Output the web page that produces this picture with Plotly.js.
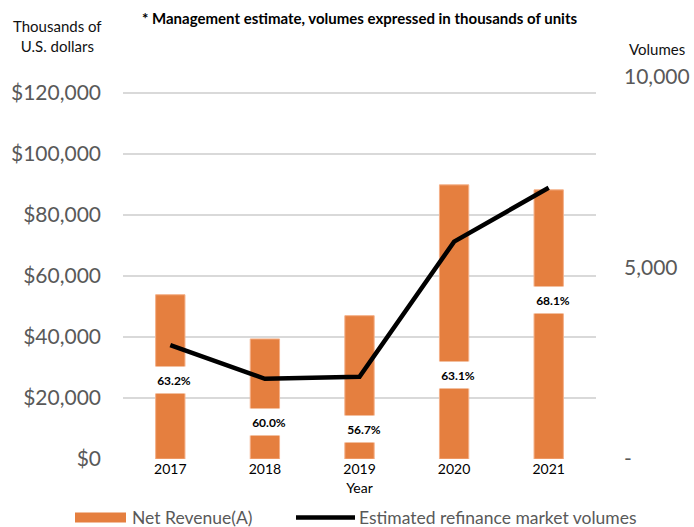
<!DOCTYPE html>
<html>
<head>
<meta charset="utf-8">
<script src="https://cdn.plot.ly/plotly-3.0.1.min.js"></script>
<style>html,body{margin:0;padding:0;background:#fff;}#chart{width:694px;height:527px;}</style>
</head>
<body>
<div id="chart"></div>
<script>
// ---- data ----
const years = ['2017', '2018', '2019', '2020', '2021'];
const netRevenue = [53860, 39360, 46990, 89880, 88240];           // thousands of US$
const refiVolumes = [2980, 2100, 2150, 5690, 7100];               // thousands of units
const marginLabels = ['63.2%', '60.0%', '56.7%', '63.1%', '68.1%'];
const marginLabelAt = [26030, 12280, 9890, 27570, 52060];         // US$ level where the label sits
const leftTicks = [0, 20000, 40000, 60000, 80000, 100000, 120000];
const rightTicks = [0, 5000, 10000];
const rightTickText = ['-', '5,000', '10,000'];

const FONT = 'Lato, "Open Sans", sans-serif';
const GREY = '#595959';
const ORANGE = '#E57F3F';

// plot area in pixels (for converting legend / text placement to paper coords)
const PL = 123, PR = 596, PT = 77, PB = 459.5;
const px = x => (x - PL) / (PR - PL);
const py = y => (PB - y) / (PB - PT);

const traces = [
  {
    type: 'bar', x: years, y: netRevenue, name: 'Net Revenue(A)',
    width: 0.31,
    marker: {color: ORANGE, line: {color: '#F4B088', width: 1}},
    hoverinfo: 'x+y'
  },
  {
    type: 'scatter', mode: 'lines', x: years, y: refiVolumes, yaxis: 'y2',
    name: 'Estimated refinance market volumes',
    line: {color: '#000000', width: 4.5}
  }
];

// category axis: annotations use the category index
const annotations = marginLabels.map((t, i) => ({
  x: i, y: marginLabelAt[i], xref: 'x', yref: 'y',
  text: '<b>' + t + '</b>', showarrow: false, xshift: 4,
  font: {family: FONT, size: 12, color: '#000'},
  bgcolor: '#ffffff', height: 24, width: 42, borderpad: 1,
  xanchor: 'center', yanchor: 'middle'
}));

annotations.push(
  {xref: 'paper', yref: 'paper', x: px(359), y: py(18), showarrow: false,
   text: '<b>* Management estimate, volumes expressed in thousands of units</b>',
   font: {family: FONT, size: 15, color: '#000'}, xanchor: 'center', yanchor: 'middle'},
  {xref: 'paper', yref: 'paper', x: px(57), y: py(36), showarrow: false,
   text: 'Thousands of<br>U.S. dollars',
   font: {family: FONT, size: 15, color: '#111'}, xanchor: 'center', yanchor: 'middle'},
  {xref: 'paper', yref: 'paper', x: px(657), y: py(49), showarrow: false,
   text: 'Volumes',
   font: {family: FONT, size: 15, color: '#111'}, xanchor: 'center', yanchor: 'middle'},
  // legend texts
  {xref: 'paper', yref: 'paper', x: px(130), y: py(518), showarrow: false,
   text: 'Net Revenue(A)',
   font: {family: FONT, size: 17.5, color: GREY}, xanchor: 'left', yanchor: 'middle'},
  {xref: 'paper', yref: 'paper', x: px(357), y: py(518), showarrow: false,
   text: 'Estimated refinance market volumes',
   font: {family: FONT, size: 17.5, color: GREY}, xanchor: 'left', yanchor: 'middle'}
);

const shapes = [
  {type: 'rect', xref: 'paper', yref: 'paper', x0: px(75), x1: px(126), y0: py(523), y1: py(513),
   fillcolor: ORANGE, line: {width: 0}},
  {type: 'line', xref: 'paper', yref: 'paper', x0: px(296), x1: px(355), y0: py(518), y1: py(518),
   line: {color: '#000', width: 4.5}}
];

const layout = {
  width: 694, height: 527,
  margin: {l: PL, r: 694 - PR, t: PT, b: 527 - PB},
  paper_bgcolor: '#fff', plot_bgcolor: '#fff',
  showlegend: false,
  font: {family: FONT, color: GREY},
  xaxis: {
    type: 'category', range: [-0.5, years.length - 0.5],
    showgrid: false, zeroline: false, showline: false, ticks: '',
    tickfont: {family: FONT, size: 14, color: '#000'},
    title: {text: 'Year', font: {family: FONT, size: 14, color: '#000'}, standoff: 7}
  },
  yaxis: {
    range: [0, 125245], tickvals: leftTicks, tickformat: '$,.0f',
    showgrid: true, gridcolor: '#D9D9D9', gridwidth: 1.5,
    zeroline: false, showline: false, ticks: '',
    tickfont: {family: FONT, size: 21, color: GREY}, ticklabelstandoff: 21
  },
  yaxis2: {
    overlaying: 'y', side: 'right', range: [0, 10000],
    tickvals: rightTicks, ticktext: rightTickText,
    showgrid: false, zeroline: false, showline: false, ticks: '',
    tickfont: {family: FONT, size: 21, color: GREY}, ticklabelstandoff: 27
  },
  annotations: annotations,
  shapes: shapes
};

Plotly.newPlot('chart', traces, layout, {displayModeBar: false, staticPlot: true});
</script>
</body>
</html>
